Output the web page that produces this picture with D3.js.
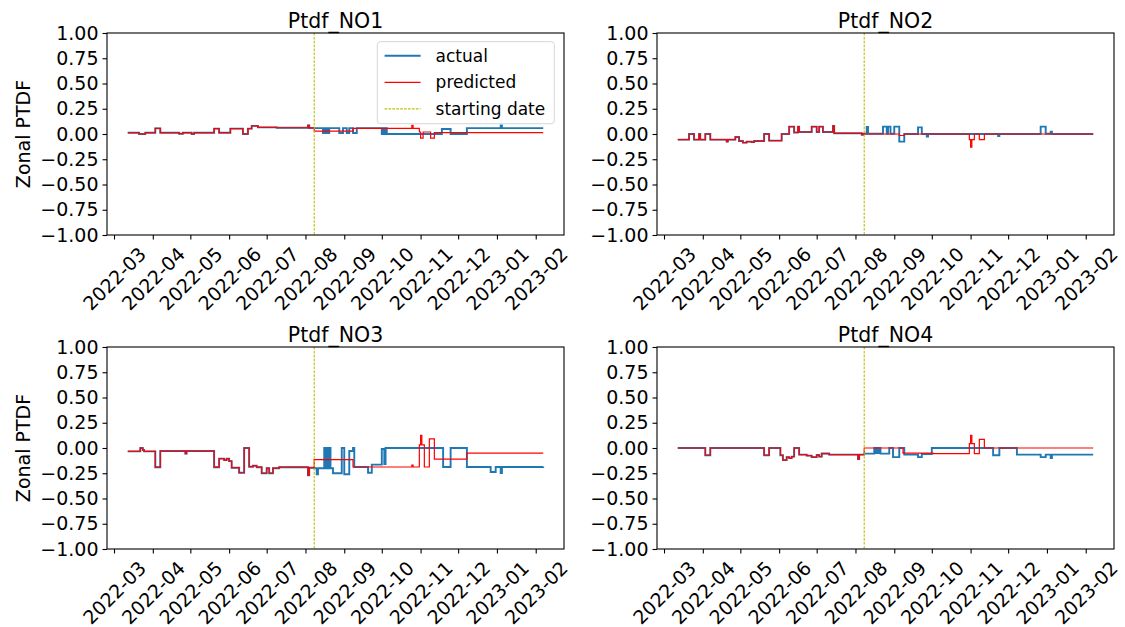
<!DOCTYPE html>
<html>
<head>
<meta charset="utf-8">
<script src="https://cdn.jsdelivr.net/npm/d3@7"></script>
<style>
  body { margin: 0; background: #fff; }
  text { font-family: "DejaVu Sans", sans-serif; fill: #000; }
</style>
</head>
<body>
<svg id="chart" width="1125" height="627"></svg>
<script>
// ---- data ----
const titles = ["Ptdf_NO1", "Ptdf_NO2", "Ptdf_NO3", "Ptdf_NO4"];
const startDate = "2022-08-08";
const yTicks = [-1, -0.75, -0.5, -0.25, 0, 0.25, 0.5, 0.75, 1];
const monthTicks = ["2022-03", "2022-04", "2022-05", "2022-06", "2022-07", "2022-08",
                    "2022-09", "2022-10", "2022-11", "2022-12", "2023-01", "2023-02"];
const legendLabels = ["actual", "predicted", "starting date"];

// history before the starting date (actual and fitted overlap there)
const no1Hist = [
  ["2022-03-12", 0.013], ["2022-03-21", 0.0], ["2022-03-26", 0.013], ["2022-04-03", 0.056], ["2022-04-07", 0.013],
  ["2022-04-22", 0.003], ["2022-04-25", 0.013], ["2022-05-02", 0.0], ["2022-05-04", 0.013],
  ["2022-05-20", 0.053], ["2022-05-24", 0.013], ["2022-06-02", 0.053], ["2022-06-12", 0.0], ["2022-06-16", 0.053],
  ["2022-06-19", 0.08], ["2022-06-24", 0.066], ["2022-07-09", 0.062], ["2022-08-03", 0.085], ["2022-08-04", 0.06]
];
const no1Actual = [
  ["2022-08-08", 0.058], ["2022-08-15", 0.01], ["2022-08-16", 0.058], ["2022-08-17", 0.01], ["2022-08-18", 0.058],
  ["2022-08-19", 0.01], ["2022-08-20", 0.058], ["2022-08-28", 0.01], ["2022-08-31", 0.058], ["2022-09-03", 0.01],
  ["2022-09-05", 0.058], ["2022-09-08", 0.01], ["2022-09-11", 0.058], ["2022-10-01", 0.0], ["2022-10-02", 0.058],
  ["2022-10-03", 0.0], ["2022-10-04", 0.058], ["2022-10-05", 0.0], ["2022-11-18", 0.05], ["2022-11-25", 0.0],
  ["2022-12-08", 0.058], ["2023-01-04", 0.085], ["2023-01-05", 0.058], ["2023-02-07", 0.058]
];
const no1Pred = [
  ["2022-08-08", 0.028], ["2022-09-08", 0.055], ["2022-10-25", 0.085], ["2022-10-26", 0.055], ["2022-10-31", 0.02],
  ["2022-11-01", -0.04], ["2022-11-03", 0.02], ["2022-11-09", -0.04], ["2022-11-12", 0.013], ["2023-02-07", 0.013]
];

const no2Hist = [
  ["2022-03-12", -0.056], ["2022-03-21", 0.0], ["2022-03-25", -0.056], ["2022-03-29", 0.0], ["2022-03-30", -0.056],
  ["2022-04-03", 0.0], ["2022-04-07", -0.056], ["2022-04-20", -0.075], ["2022-04-21", -0.056],
  ["2022-04-27", -0.03], ["2022-04-30", -0.07], ["2022-05-03", -0.085], ["2022-05-06", -0.075], ["2022-05-10", -0.08],
  ["2022-05-12", -0.07], ["2022-05-20", 0.0], ["2022-05-24", -0.066], ["2022-06-03", 0.0], ["2022-06-09", 0.073],
  ["2022-06-13", 0.015], ["2022-06-16", 0.073], ["2022-06-17", 0.02], ["2022-06-27", 0.073], ["2022-07-01", 0.02],
  ["2022-07-03", 0.073], ["2022-07-06", 0.02], ["2022-07-14", 0.08], ["2022-07-15", 0.007], ["2022-08-06", -0.007],
  ["2022-08-07", 0.003]
];
const no2Actual = [
  ["2022-08-08", 0.003], ["2022-08-10", 0.07], ["2022-08-11", 0.003], ["2022-08-23", 0.073], ["2022-08-26", 0.003],
  ["2022-08-27", 0.073], ["2022-08-29", 0.003], ["2022-09-01", 0.073], ["2022-09-05", -0.075], ["2022-09-09", 0.0],
  ["2022-09-20", 0.066], ["2022-09-23", 0.0], ["2022-09-27", -0.025], ["2022-09-28", 0.0], ["2022-11-23", -0.02],
  ["2022-11-24", 0.0], ["2022-12-27", 0.073], ["2022-12-31", 0.003], ["2023-01-04", 0.023], ["2023-01-05", 0.0],
  ["2023-02-07", 0.0]
];
const no2Pred = [
  ["2022-08-08", 0.0], ["2022-09-05", -0.015], ["2022-09-09", 0.0], ["2022-10-31", -0.055], ["2022-11-01", -0.13],
  ["2022-11-02", -0.055], ["2022-11-04", 0.0], ["2022-11-08", -0.055], ["2022-11-12", 0.0], ["2023-02-07", 0.0]
];

const no3Hist = [
  ["2022-03-12", -0.033], ["2022-03-22", 0.0], ["2022-03-24", -0.02], ["2022-03-25", -0.033], ["2022-04-03", -0.19],
  ["2022-04-07", -0.03], ["2022-04-27", -0.055], ["2022-04-28", -0.03], ["2022-05-20", -0.19], ["2022-05-24", -0.105],
  ["2022-05-28", -0.12], ["2022-05-30", -0.105], ["2022-06-01", -0.13], ["2022-06-03", -0.195], ["2022-06-09", -0.245],
  ["2022-06-13", 0.0], ["2022-06-17", -0.185], ["2022-06-20", -0.175], ["2022-06-23", -0.19], ["2022-06-27", -0.25],
  ["2022-07-01", -0.2], ["2022-07-03", -0.25], ["2022-07-06", -0.2], ["2022-07-11", -0.19], ["2022-08-03", -0.27],
  ["2022-08-04", -0.195]
];
const no3Actual = [
  ["2022-08-08", -0.2], ["2022-08-10", -0.26], ["2022-08-11", -0.2], ["2022-08-16", 0.0], ["2022-08-17", -0.2],
  ["2022-08-18", 0.0], ["2022-08-19", -0.2], ["2022-08-20", 0.0], ["2022-08-21", -0.2], ["2022-08-23", -0.25],
  ["2022-08-30", 0.0], ["2022-09-01", -0.26], ["2022-09-05", -0.03], ["2022-09-08", 0.0], ["2022-09-09", -0.188],
  ["2022-09-20", -0.245], ["2022-09-23", -0.165], ["2022-10-01", -0.01], ["2022-10-03", -0.16], ["2022-10-04", 0.0],
  ["2022-11-19", -0.188], ["2022-11-25", 0.0], ["2022-12-08", -0.188], ["2022-12-27", -0.237], ["2022-12-31", -0.188],
  ["2023-01-04", -0.247], ["2023-01-05", -0.188], ["2023-02-07", -0.185]
];
const no3Pred = [
  ["2022-08-08", -0.115], ["2022-09-08", -0.188], ["2022-10-25", -0.17], ["2022-10-26", -0.188], ["2022-10-31", 0.03],
  ["2022-11-01", 0.125], ["2022-11-02", 0.03], ["2022-11-04", -0.188], ["2022-11-08", 0.09], ["2022-11-12", -0.11],
  ["2022-12-08", -0.05], ["2023-02-07", -0.05]
];

const no4Hist = [
  ["2022-03-12", 0.0], ["2022-04-03", -0.072], ["2022-04-07", 0.0], ["2022-05-20", -0.072], ["2022-05-24", 0.0],
  ["2022-06-02", -0.072], ["2022-06-04", -0.12], ["2022-06-07", -0.09], ["2022-06-09", -0.1], ["2022-06-11", -0.085],
  ["2022-06-13", 0.0], ["2022-06-17", -0.066], ["2022-06-23", -0.075], ["2022-06-27", -0.09], ["2022-07-01", -0.07],
  ["2022-07-03", -0.085], ["2022-07-05", -0.055], ["2022-07-11", -0.066], ["2022-08-03", -0.11], ["2022-08-04", -0.066]
];
const no4Actual = [
  ["2022-08-08", -0.056], ["2022-08-16", 0.0], ["2022-08-17", -0.05], ["2022-08-18", 0.0], ["2022-08-19", -0.05],
  ["2022-08-20", 0.0], ["2022-08-21", -0.056], ["2022-08-28", 0.0], ["2022-08-31", -0.09], ["2022-09-05", 0.0],
  ["2022-09-09", -0.066], ["2022-09-20", -0.09], ["2022-09-23", -0.06], ["2022-10-01", 0.0], ["2022-11-19", -0.072],
  ["2022-11-24", 0.0], ["2022-12-08", -0.066], ["2022-12-27", -0.09], ["2022-12-31", -0.066], ["2023-01-04", -0.1],
  ["2023-01-05", -0.066], ["2023-02-07", -0.066]
];
const no4Pred = [
  ["2022-08-08", 0.0], ["2022-09-08", -0.05], ["2022-10-02", -0.056], ["2022-10-31", 0.043], ["2022-11-01", 0.125],
  ["2022-11-02", 0.043], ["2022-11-04", -0.056], ["2022-11-08", 0.086], ["2022-11-12", 0.0], ["2023-02-07", 0.0]
];

const histories = [no1Hist, no2Hist, no3Hist, no4Hist];
const actuals = [no1Actual, no2Actual, no3Actual, no4Actual];
const preds = [no1Pred, no2Pred, no3Pred, no4Pred];

// ---- layout ----
const cols = [107, 657], rows = [33, 347];
const W = 457, H = 202;
const tickLen = 4.5, tickPad = 4;
const tickFont = 19, titleFont = 20.5, labelFont = 19, legendFont = 17;
const blue = "#1f77b4", red = "#ff0000", yellow = "#bfbf00";

const parseDay = d3.timeParse("%Y-%m-%d");
const parseMonth = d3.timeParse("%Y-%m");
const svg = d3.select("#chart");

titles.forEach((title, i) => {
  const left = cols[i % 2], top = rows[Math.floor(i / 2)];
  const g = svg.append("g").attr("transform", `translate(${left},${top})`);

  const actual = histories[i].concat(actuals[i]).map(d => ({ t: parseDay(d[0]), v: d[1] }));
  const predicted = histories[i].concat(preds[i]).map(d => ({ t: parseDay(d[0]), v: d[1] }));

  // x range padded by 5% like matplotlib autoscale
  const ext = d3.extent(actual.concat(predicted), d => d.t);
  const pad = (ext[1] - ext[0]) * 0.05;
  const x = d3.scaleTime()
    .domain([new Date(+ext[0] - pad), new Date(+ext[1] + pad)])
    .range([0, W]);
  const y = d3.scaleLinear().domain([-1, 1]).range([H, 0]);

  const line = d3.line()
    .x(d => x(d.t))
    .y(d => y(d.v))
    .curve(d3.curveStepAfter);

  g.append("path").datum(actual)
    .attr("d", line)
    .attr("fill", "none")
    .attr("stroke", blue)
    .attr("stroke-width", 1.9);

  g.append("path").datum(predicted)
    .attr("d", line)
    .attr("fill", "none")
    .attr("stroke", red)
    .attr("stroke-width", 1.2);

  const sx = x(parseDay(startDate));
  g.append("line")
    .attr("x1", sx).attr("x2", sx)
    .attr("y1", 0).attr("y2", H)
    .attr("stroke", yellow)
    .attr("stroke-width", 1.1)
    .attr("stroke-dasharray", "2.6,1.3");

  // y axis
  const yAxis = g.append("g")
    .call(d3.axisLeft(y).tickValues(yTicks).tickFormat(d3.format(".2f"))
      .tickSize(tickLen).tickPadding(tickPad).tickSizeOuter(0));
  yAxis.select(".domain").remove();
  yAxis.selectAll("line").attr("stroke", "#000").attr("stroke-width", 1.1);
  yAxis.selectAll("text")
    .attr("font-size", tickFont)
    .attr("font-family", "DejaVu Sans")
    .attr("fill", "#000");

  // x axis with 45 degree labels centred on the tick
  const xAxis = g.append("g")
    .attr("transform", `translate(0,${H})`)
    .call(d3.axisBottom(x).tickValues(monthTicks.map(parseMonth))
      .tickFormat(d3.timeFormat("%Y-%m"))
      .tickSize(tickLen).tickPadding(tickPad).tickSizeOuter(0));
  xAxis.select(".domain").remove();
  xAxis.selectAll("line").attr("stroke", "#000").attr("stroke-width", 1.1);
  xAxis.selectAll("text")
    .attr("font-size", tickFont)
    .attr("font-family", "DejaVu Sans")
    .attr("fill", "#000")
    .each(function () {
      const t = d3.select(this);
      const L = this.getComputedTextLength();
      const half = (L + tickFont * 1.05) * Math.SQRT1_2 / 2;
      t.attr("y", 0).attr("dy", "0.36em")
        .attr("text-anchor", "middle")
        .attr("transform", `translate(0,${tickLen + tickPad + half}) rotate(-45)`);
    });

  // spines
  g.append("rect")
    .attr("width", W).attr("height", H)
    .attr("fill", "none")
    .attr("stroke", "#000")
    .attr("stroke-width", 1.1);

  // title
  g.append("text")
    .attr("x", W / 2).attr("y", -5.5)
    .attr("text-anchor", "middle")
    .attr("font-size", titleFont)
    .text(title);

  if (i % 2 === 0) {
    g.append("text")
      .attr("transform", `translate(${-77},${H / 2}) rotate(-90)`)
      .attr("text-anchor", "middle")
      .attr("font-size", labelFont)
      .text("Zonal PTDF");
  }

  if (i === 0) {
    const lg = g.append("g").attr("transform", `translate(${W - 9.7 - 177},${8.7})`);
    lg.append("rect")
      .attr("width", 177).attr("height", 82)
      .attr("rx", 3)
      .attr("fill", "#fff").attr("fill-opacity", 0.8)
      .attr("stroke", "#d6d6d6");
    const styles = [
      { c: blue, w: 1.9, dash: null },
      { c: red, w: 1.2, dash: null },
      { c: yellow, w: 1.1, dash: "2.6,1.3" }
    ];
    legendLabels.forEach((lab, k) => {
      const ry = 14 + k * 26.6;
      lg.append("line")
        .attr("x1", 7.3).attr("x2", 43.3)
        .attr("y1", ry).attr("y2", ry)
        .attr("stroke", styles[k].c)
        .attr("stroke-width", styles[k].w)
        .attr("stroke-dasharray", styles[k].dash);
      lg.append("text")
        .attr("x", 58.3).attr("y", ry)
        .attr("dy", "0.36em")
        .attr("font-size", legendFont)
        .text(lab);
    });
  }
});
</script>
</body>
</html>
